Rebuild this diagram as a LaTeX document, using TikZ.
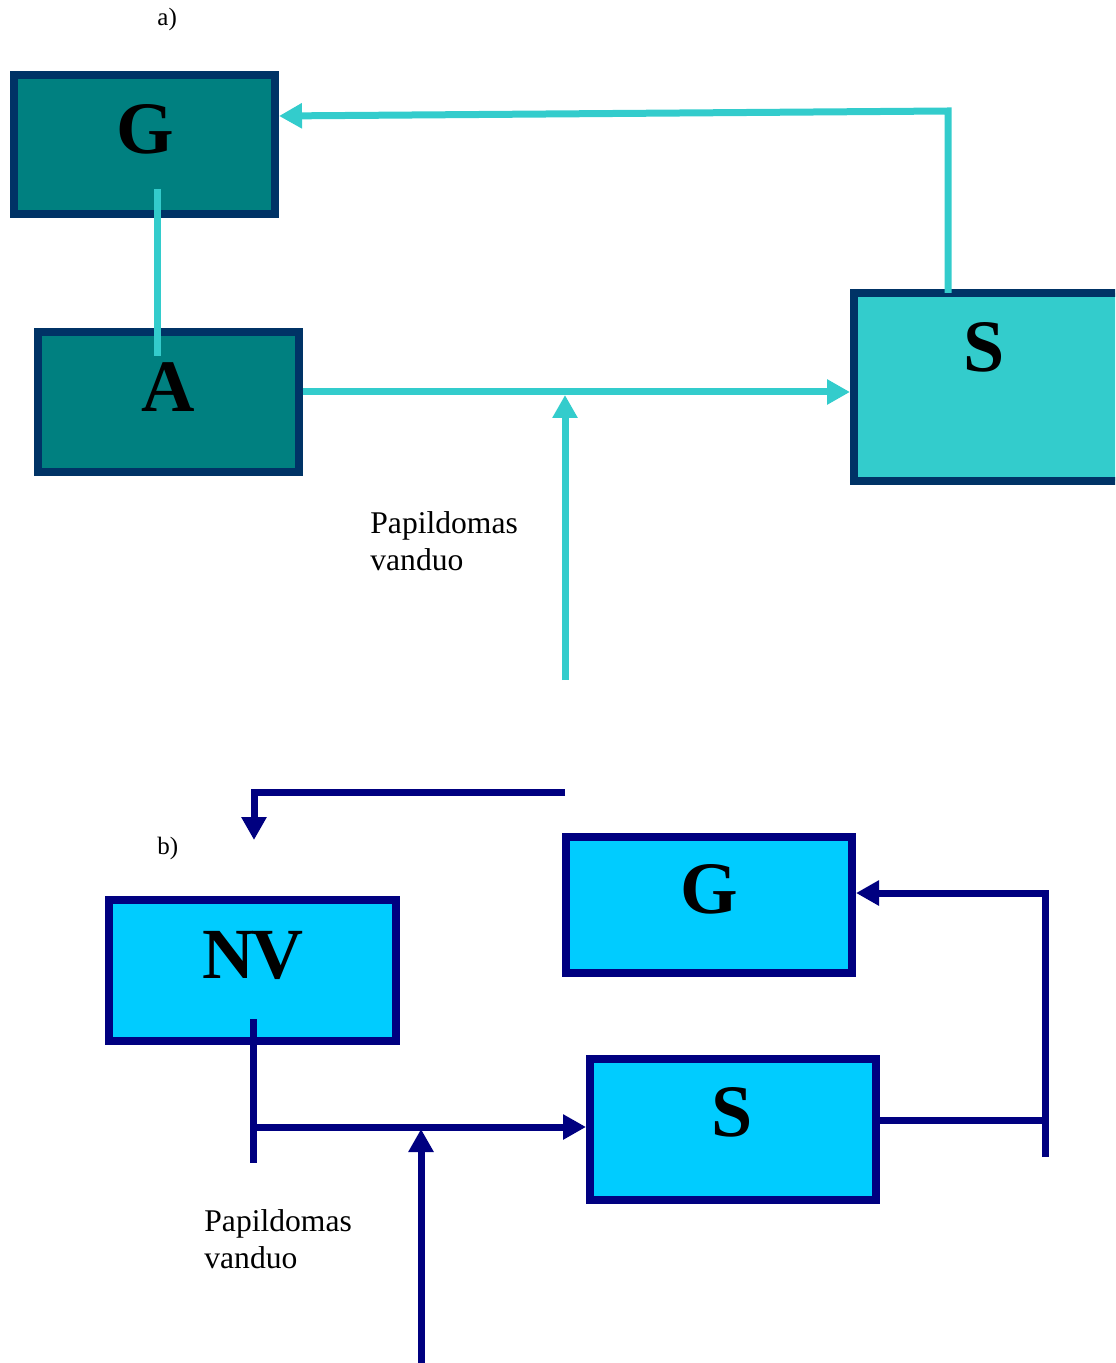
\documentclass[tikz,border=0pt]{standalone}
\usepackage{fontspec}
\setmainfont{Liberation Serif}
\usetikzlibrary{arrows.meta}
\definecolor{tealA}{HTML}{008080}
\definecolor{navyA}{HTML}{003366}
\definecolor{cyanA}{HTML}{33CCCC}
\definecolor{fillB}{HTML}{00CCFF}
\definecolor{navyB}{HTML}{000080}
\tikzset{
  boxA/.style={draw=navyA, line width=4pt, fill=tealA, rectangle, inner sep=0pt},
  boxSA/.style={draw=navyA, line width=4pt, fill=cyanA, rectangle, inner sep=0pt},
  boxB/.style={draw=navyB, line width=4pt, fill=fillB, rectangle, inner sep=0pt},
  lineA/.style={draw=cyanA, line width=3.5pt},
  lineB/.style={draw=navyB, line width=3.5pt},
  tipA/.style={-{Triangle[length=11.5pt,width=12pt]}},
  bigletter/.style={font=\bfseries\fontsize{37}{40}\selectfont, inner sep=0pt},
  smalltext/.style={font=\fontsize{15.8}{18.5}\selectfont, inner sep=0pt, anchor=base west},
  tinytext/.style={font=\fontsize{12.5}{14}\selectfont, inner sep=0pt, anchor=base west},
}
\begin{document}
\begin{tikzpicture}[x=0.5pt,y=-0.5pt]
\clip (0,0) rectangle (1115,1363);
% ---------- a) ----------
\node[tinytext] (la) at (157,26) {a)};
\node[boxA, minimum width=130.5pt, minimum height=69.5pt] (Ga) at (144.5,144.5) {};
\node[boxA, minimum width=130.5pt, minimum height=70pt] (Aa) at (168.5,402) {};
\node[boxSA, minimum width=140pt, minimum height=94pt] (Sa) at (994,387) {};
\node[bigletter] (tGa) at (145,129) {G};
\node[bigletter] (tAa) at (168,387) {A};
\node[bigletter] (tSa) at (984,347) {S};
\coordinate (ga1) at (157,189);
\coordinate (ga2) at (157,356);
\draw[lineA] (ga1) -- (ga2);
\coordinate (sa1) at (948,293);
\coordinate (sa2) at (948,111);
\draw[lineA, tipA] (sa1) -- (sa2) -- (Ga.east |- 0,116);
\draw[lineA, tipA] (Aa.east |- 0,392) -- (Sa.west |- 0,392);
\coordinate (wa1) at (565,680);
\coordinate (wa2) at (565,395);
\draw[lineA, tipA] (wa1) -- (wa2);
\node[smalltext] (pa1) at (370,533) {Papildomas};
\node[smalltext] (pa2) at (370,570) {vanduo};
% ---------- b) ----------
\node[tinytext] (lb) at (157,854) {b)};
\node[boxB, minimum width=143pt, minimum height=68pt] (Gb) at (709,905) {};
\node[boxB, minimum width=143.5pt, minimum height=70.5pt] (NVb) at (252.5,970.5) {};
\node[boxB, minimum width=143pt, minimum height=70.5pt] (Sb) at (733,1129.5) {};
\node[bigletter] (tGb) at (709,889) {G};
\node[bigletter, font=\bfseries\fontsize{36}{40}\selectfont] (tNVb) at (253,955) {N\kern-1.5pt V};
\node[bigletter] (tSb) at (732,1112) {S};
\coordinate (tb1) at (565,792);
\coordinate (tb2) at (254,792);
\coordinate (tb3) at (254,840);
\draw[lineB, tipA] (tb1) -- (tb2) -- (tb3);
\coordinate (nv1) at (253,1019);
\coordinate (nv2) at (253,1163);
\draw[lineB] (nv1) -- (nv2);
\draw[lineB, tipA] (253,1127) -- (Sb.west |- 0,1127);
\coordinate (wb1) at (421,1363);
\coordinate (wb2) at (421,1129);
\draw[lineB, tipA] (wb1) -- (wb2);
\coordinate (rb1) at (1045,1120);
\draw[lineB] (Sb.east |- rb1) -- (rb1);
\coordinate (rb2) at (1045,1157);
\coordinate (rb3) at (1045,893);
\draw[lineB, tipA] (rb2) -- (rb3) -- (Gb.east |- rb3);
\node[smalltext] (pb1) at (204,1231) {Papildomas};
\node[smalltext] (pb2) at (204,1268) {vanduo};
\end{tikzpicture}
\end{document}
